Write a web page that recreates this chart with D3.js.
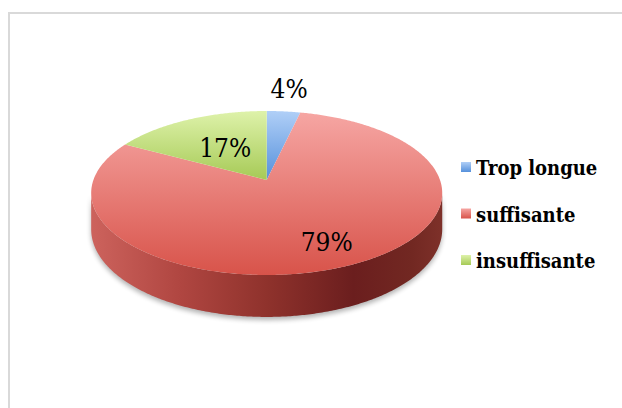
<!DOCTYPE html>
<html>
<head>
<meta charset="utf-8">
<script src="https://cdn.jsdelivr.net/npm/d3@7/dist/d3.min.js"></script>
<style>
  html, body { margin: 0; padding: 0; background: #fff; }
  svg { display: block; }
</style>
</head>
<body>
<div id="chart"></div>
<script>
// chart data
const categories = ['Trop longue', 'suffisante', 'insuffisante'];
const shares = [3.6, 79.3, 17.1];

// look and layout
const topColors = [['#b0cff7', '#5590db'], ['#f6a6a3', '#d8534a'], ['#def2aa', '#a6ca56']];
const labelRadius = [1.4, 0.75, 0.5];

const width = 622, height = 408;
const cx = 266.7, R = 173.3, apexY = 180;
const persp = -0.1585, slope = 51.4, depth = 35.3;

// 3d projection of a point on the disk (theta from 12 o'clock clockwise)
function project(theta, r, drop) {
    const x3 = r * Math.sin(theta);
    const z = -r * Math.cos(theta);
    const w = 1 / (1 + persp * z);
    return [cx + R * x3 * w, (slope * z + apexY) * w + drop * depth * w];
}

function arcPoints(a0, a1, r, drop) {
    const n = Math.max(2, Math.ceil((a1 - a0) / 0.01));
    return d3.range(n + 1).map(i => project(a0 + (a1 - a0) * i / n, r, drop));
}

const svg = d3.select('#chart').append('svg')
    .attr('width', width)
    .attr('height', height);

// chart frame
svg.append('rect')
    .attr('x', 9).attr('y', 13)
    .attr('width', width + 20).attr('height', height + 20)
    .attr('fill', '#fff')
    .attr('stroke', '#d9d9d9')
    .attr('stroke-width', 2);

const defs = svg.append('defs');
const line = d3.line();

const arcs = d3.pie().sort(null).value(d => d)(shares);

const color = d3.scaleOrdinal().domain(categories).range(topColors);

categories.forEach((c, i) => {
    const g = defs.append('linearGradient')
        .attr('id', 'top' + i)
        .attr('x1', 0).attr('y1', 0).attr('x2', 0).attr('y2', 1);
    g.append('stop').attr('offset', 0).attr('stop-color', color(c)[0]);
    g.append('stop').attr('offset', 1).attr('stop-color', color(c)[1]);
});

// side gradient for the visible rim
const sideGrad = defs.append('linearGradient')
    .attr('id', 'side')
    .attr('gradientUnits', 'userSpaceOnUse')
    .attr('x1', cx - R).attr('x2', cx + R).attr('y1', 0).attr('y2', 0);
[[0, '#cc625c'], [0.25, '#b04641'], [0.5, '#8f322c'], [0.75, '#6b1e1e'], [0.92, '#722822'], [1, '#7d3029']]
    .forEach(s => sideGrad.append('stop').attr('offset', s[0]).attr('stop-color', s[1]));

const blur = defs.append('filter').attr('id', 'shadow')
    .attr('x', '-10%').attr('y', '-10%').attr('width', '120%').attr('height', '130%');
blur.append('feGaussianBlur').attr('stdDeviation', 2.5);

// front half of the rim (leftmost / rightmost points on screen)
const thL = Math.PI * 2 - Math.acos(persp);
const thR = Math.acos(persp);

// shadow under the pie
const shadowPts = arcPoints(thR, thL, 1.0, 1).map(p => [p[0], p[1] + 3])
    .concat(arcPoints(thR, thL, 1.0, 0).reverse());
svg.append('path')
    .attr('d', line(shadowPts) + 'Z')
    .attr('fill', '#000')
    .attr('opacity', 0.3)
    .attr('filter', 'url(#shadow)');

// rim pieces
arcs.forEach((d, i) => {
    const a0 = Math.max(d.startAngle, thR);
    const a1 = Math.min(d.endAngle, thL);
    if (a1 <= a0) return;
    const pts = arcPoints(a0, a1, 1, 0).concat(arcPoints(a0, a1, 1, 1).reverse());
    svg.append('path')
        .attr('d', line(pts) + 'Z')
        .attr('fill', 'url(#side)');
});

// top surfaces
arcs.forEach((d, i) => {
    const pts = [project(0, 0, 0)].concat(arcPoints(d.startAngle, d.endAngle, 1, 0));
    svg.append('path')
        .attr('d', line(pts) + 'Z')
        .attr('fill', 'url(#top' + i + ')');
});

// percentage labels
const total = d3.sum(shares);
arcs.forEach((d, i) => {
    const mid = (d.startAngle + d.endAngle) / 2;
    const p = project(mid, labelRadius[i], 0);
    svg.append('text')
        .attr('x', p[0]).attr('y', p[1])
        .attr('dy', '0.36em')
        .attr('text-anchor', 'middle')
        .attr('font-family', '"DejaVu Serif Condensed", "DejaVu Serif", serif')
        .attr('font-size', 26)
        .attr('fill', '#000')
        .text(Math.round(d.data / total * 100) + '%');
});

// legend
const legend = svg.append('g').attr('transform', 'translate(461,162)');
categories.forEach((c, i) => {
    const row = legend.append('g').attr('transform', `translate(0,${i * 46.5})`);
    row.append('rect')
        .attr('width', 10).attr('height', 10)
        .attr('fill', `url(#top${i})`);
    row.append('text')
        .attr('x', 15).attr('y', 13)
        .attr('font-family', '"DejaVu Serif Condensed", "DejaVu Serif", serif')
        .attr('font-weight', 'bold')
        .attr('font-size', 20)
        .attr('fill', '#000')
        .text(c);
});
</script>
</body>
</html>
